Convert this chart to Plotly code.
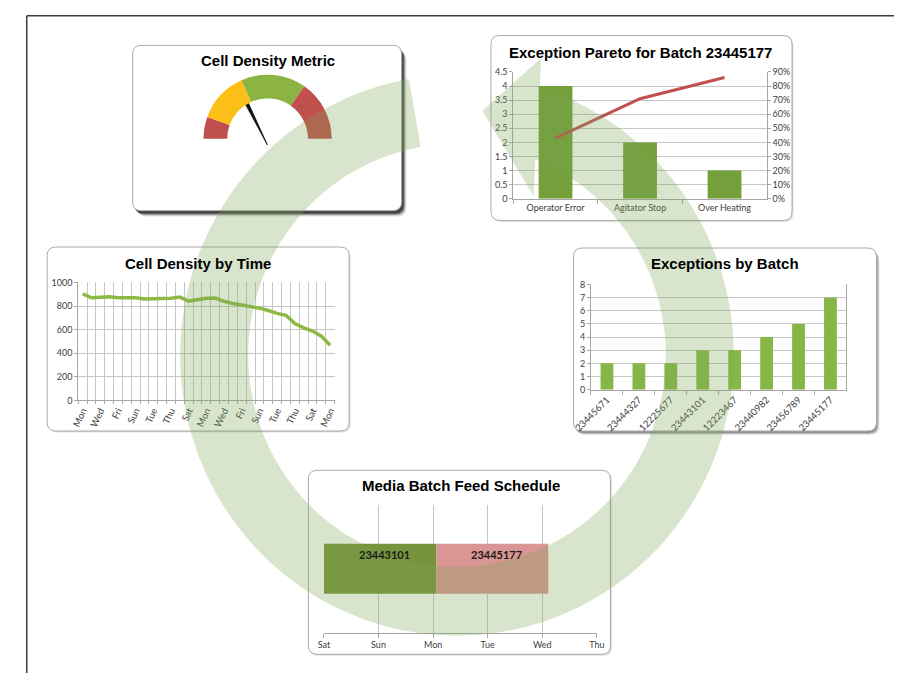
import math
import plotly.graph_objects as go

W, H = 902, 678

# ---------------- data ----------------
gauge_bands = [20, 46, 59, 55]          # degrees of the half dial: low, warn, ok, high
gauge_colors = ["#c0504d", "#fcbf17", "#8bb443", "#c0504d"]
needle_value = 63                        # position on the 0..180 dial

pareto_causes = ["Operator Error", "Agitator Stop", "Over Heating"]
pareto_counts = [4, 2, 1]
pareto_cumulative = [0.43, 0.71, 0.86]

density_days = ["Mon", "Tue", "Wed", "Thu", "Fri", "Sat", "Sun",
                "Mon", "Tue", "Wed", "Thu", "Fri", "Sat", "Sun",
                "Mon", "Tue", "Wed", "Thu", "Fri", "Sat", "Sun",
                "Mon", "Tue", "Wed", "Thu", "Fri", "Sat", "Sun", "Mon"]
density_values = [903, 870, 875, 878, 870, 870, 870, 860, 865, 865,
                  866, 876, 842, 855, 866, 868, 840, 822, 810, 798,
                  782, 762, 738, 722, 652, 615, 588, 545, 468]

batch_ids = ["23445671", "23444327", "12225677", "23443101",
             "12223467", "23440982", "23456789", "23445177"]
batch_exceptions = [2, 2, 2, 3, 3, 4, 5, 7]

feed_batches = ["23443101", "23445177"]
feed_days_used = [2.06, 2.05]
week_days = ["Sat", "Sun", "Mon", "Tue", "Wed", "Thu"]

# ---------------- helpers ----------------
TICK_FONT = dict(family="Lato, Open Sans, sans-serif", size=9, color="#404040")
GRID = "#c6c6c6"
AXLINE = "#a6a6a6"


def px(x):
    return x / W


def py(y):
    return 1 - y / H


def dom_x(a, b):
    return [a / W, b / W]


def dom_y(top, bottom):
    return [1 - bottom / H, 1 - top / H]


def rrect_path(x0, y0, x1, y1, r):
    p = [
        f"M{px(x0 + r)},{py(y0)}",
        f"L{px(x1 - r)},{py(y0)}",
        f"Q{px(x1)},{py(y0)} {px(x1)},{py(y0 + r)}",
        f"L{px(x1)},{py(y1 - r)}",
        f"Q{px(x1)},{py(y1)} {px(x1 - r)},{py(y1)}",
        f"L{px(x0 + r)},{py(y1)}",
        f"Q{px(x0)},{py(y1)} {px(x0)},{py(y1 - r)}",
        f"L{px(x0)},{py(y0 + r)}",
        f"Q{px(x0)},{py(y0)} {px(x0 + r)},{py(y0)}",
        "Z",
    ]
    return " ".join(p)


shapes = []
annotations = []


def panel(x0, y0, x1, y1, shadow="soft"):
    if shadow == "strong":
        layers = [(5, 6, 0.10), (4, 5, 0.18), (3, 4, 0.35), (2, 3, 0.45)]
    elif shadow == "medium":
        layers = [(3, 4, 0.10), (2, 3, 0.18), (1, 2, 0.22)]
    else:
        layers = [(2, 2, 0.06), (1, 1, 0.10)]
    for dx, dy, a in layers:
        shapes.append(dict(type="path", xref="paper", yref="paper", layer="below",
                           path=rrect_path(x0 + dx, y0 + dy, x1 + dx, y1 + dy, 9),
                           fillcolor=f"rgba(0,0,0,{a})", line=dict(width=0)))
    shapes.append(dict(type="path", xref="paper", yref="paper", layer="below",
                       path=rrect_path(x0, y0, x1, y1, 9),
                       fillcolor="white", line=dict(color="#a9a9a9", width=1)))


def title(text, cx, cy):
    annotations.append(dict(text=f"<b>{text}</b>", x=px(cx), y=py(cy),
                            xref="paper", yref="paper", showarrow=False,
                            xanchor="center", yanchor="middle",
                            font=dict(family="Liberation Sans, Arial, sans-serif",
                                      size=15, color="black")))


# outer frame
shapes.append(dict(type="line", xref="paper", yref="paper", layer="below",
                   x0=px(9), x1=1.0, y0=py(10), y1=py(10),
                   line=dict(color="#3c3c3c", width=1.5)))
shapes.append(dict(type="line", xref="paper", yref="paper", layer="below",
                   x0=px(9), x1=px(9), y0=py(10), y1=0,
                   line=dict(color="#3c3c3c", width=1.5)))

# panels
panel(118, 40, 395, 208, "strong")
panel(487, 30, 797, 218, "soft")
panel(30, 245, 341, 432, "soft")
panel(572, 246, 884, 432, "medium")
panel(299, 472, 610, 659, "soft")

title("Cell Density Metric", 257, 55)
title("Exception Pareto for Batch 23445177", 641, 47)
title("Cell Density by Time", 185, 262)
title("Exceptions by Batch", 728, 262)
title("Media Batch Feed Schedule", 456, 487)

fig = go.Figure()

# ---------------- gauge ----------------
gauge_box = (191, 69, 323, 201)   # left, top, right, bottom in px
fig.add_trace(go.Pie(
    values=gauge_bands + [sum(gauge_bands)],
    marker=dict(colors=gauge_colors + ["rgba(0,0,0,0)"], line=dict(width=0)),
    hole=0.63, rotation=-90, direction="clockwise", sort=False,
    textinfo="none", hoverinfo="skip", showlegend=False,
    domain=dict(x=dom_x(gauge_box[0], gauge_box[2]), y=dom_y(gauge_box[1], gauge_box[3])),
))

half = (gauge_box[2] - gauge_box[0]) / 2
ang = math.radians(180 - needle_value)
ux, uy = math.cos(ang), math.sin(ang)
nx, ny = -uy, ux
pivot = (0.0, -6.0)
tip = (pivot[0] + 48 * ux, pivot[1] + 48 * uy)
needle_x = [pivot[0] + 0.3 * nx, tip[0] + 1.7 * nx, tip[0] - 1.7 * nx, pivot[0] - 0.3 * nx, pivot[0] + 0.3 * nx]
needle_y = [pivot[1] + 0.3 * ny, tip[1] + 1.7 * ny, tip[1] - 1.7 * ny, pivot[1] - 0.3 * ny, pivot[1] + 0.3 * ny]
fig.add_trace(go.Scatter(x=needle_x, y=needle_y, mode="lines", fill="toself",
                         fillcolor="#111111", line=dict(color="#111111", width=0.8),
                         xaxis="x6", yaxis="y6", hoverinfo="skip", showlegend=False))

# ---------------- pareto ----------------
fig.add_trace(go.Bar(x=pareto_causes, y=pareto_counts, width=0.4,
                     marker=dict(color="#73a03a", line=dict(width=0)),
                     xaxis="x", yaxis="y", showlegend=False))
fig.add_trace(go.Scatter(x=pareto_causes, y=pareto_cumulative, mode="lines",
                         line=dict(color="#c0504d", width=3),
                         xaxis="x", yaxis="y2", showlegend=False))

# ---------------- cell density by time ----------------
idx = list(range(len(density_values)))
fig.add_trace(go.Scatter(x=idx, y=density_values, mode="lines",
                         line=dict(color="#8db944", width=3.5),
                         xaxis="x3", yaxis="y3", showlegend=False))

# ---------------- exceptions by batch ----------------
fig.add_trace(go.Bar(x=batch_ids, y=batch_exceptions, width=0.4,
                     marker=dict(color="#86b645", line=dict(width=0)),
                     xaxis="x4", yaxis="y4", showlegend=False))

# ---------------- media batch feed schedule ----------------
feed_colors = ["#77933c", "#d99694"]
start = 0.0
for name, dur, col in zip(feed_batches, feed_days_used, feed_colors):
    fig.add_trace(go.Bar(y=[0], x=[dur], base=[start], orientation="h", width=0.39,
                         marker=dict(color=col, line=dict(width=0)),
                         xaxis="x5", yaxis="y5", showlegend=False))
    annotations.append(dict(text=f"<b>{name}</b>", x=start + dur / 2, y=0,
                            xref="x5", yref="y5", showarrow=False, yshift=14, xshift=4,
                            font=dict(family="Lato, Open Sans, sans-serif", size=11,
                                      color="#1a1a1a")))
    start += dur

# ---------------- big circular arrow ----------------
ring_cx, ring_cy = 452, 355
ring_outer, ring_inner = 285, 215


def ring_pt(deg, r):
    a = math.radians(deg)
    return ring_cx + r * math.cos(a), ring_cy - r * math.sin(a)


pts = []
d = 100.0
while d <= 432.6:
    pts.append(ring_pt(d, ring_outer))
    d += 1.5
pts.append(ring_pt(432.6, ring_outer))
pts.append(ring_pt(434, 314))
pts.append(ring_pt(444, 250))
pts.append(ring_pt(424, 180))
pts.append(ring_pt(428, ring_inner))
d = 428.0
while d >= 100:
    pts.append(ring_pt(d, ring_inner))
    d -= 1.5
pts.append(ring_pt(100, ring_inner))
ring_path = "M" + " L".join(f"{px(x)},{py(y)}" for x, y in pts) + " Z"
shapes.append(dict(type="path", xref="paper", yref="paper", layer="above",
                   path=ring_path, fillcolor="rgba(125,165,85,0.30)",
                   line=dict(width=0)))

# ---------------- layout ----------------
common_y = dict(gridcolor=GRID, showline=True, linecolor=AXLINE, ticks="outside",
                ticklen=3, tickcolor=AXLINE, tickfont=TICK_FONT, zeroline=False,
                fixedrange=True)

fig.update_layout(
    width=W, height=H, margin=dict(l=0, r=0, t=0, b=0),
    paper_bgcolor="white", plot_bgcolor="rgba(0,0,0,0)",
    showlegend=False, bargap=0.6, barmode="overlay",
    shapes=shapes, annotations=annotations,
    # pareto
    xaxis=dict(domain=dom_x(510, 771), anchor="y", tickson="boundaries", ticks="outside",
               ticklen=4, tickcolor=AXLINE, showline=True, linecolor=AXLINE,
               showgrid=False, tickfont=TICK_FONT, fixedrange=True),
    yaxis=dict(domain=dom_y(67, 196), anchor="x", range=[0, 4.5], dtick=0.5, **common_y),
    yaxis2=dict(overlaying="y", anchor="x", side="right", range=[0, 0.9], dtick=0.1,
                tickformat=".0%", showgrid=False, showline=True, linecolor=AXLINE,
                ticks="outside", ticklen=3, tickcolor=AXLINE, tickfont=TICK_FONT,
                zeroline=False, fixedrange=True),
    # cell density by time
    xaxis3=dict(domain=dom_x(62, 326), anchor="y3", range=[-0.5, len(density_values) - 0.5],
                tickmode="array", tickvals=idx[::2], ticktext=density_days[::2],
                tickangle=-65, showgrid=False, showline=True, linecolor=AXLINE,
                ticks="", tickfont=dict(TICK_FONT, size=9.5), zeroline=False, fixedrange=True,
                minor=dict(tick0=0.5, dtick=1, showgrid=True, gridcolor=GRID,
                           ticks="outside", ticklen=3, tickcolor=AXLINE)),
    yaxis3=dict(domain=dom_y(281, 401), anchor="x3", range=[0, 1000], dtick=200, **common_y),
    # exceptions by batch
    xaxis4=dict(domain=dom_x(590, 853), anchor="y4", tickson="boundaries", ticks="outside",
                ticklen=4, tickcolor=AXLINE, showline=True, linecolor=AXLINE,
                showgrid=False, tickangle=-45, tickfont=dict(TICK_FONT, size=9.5),
                fixedrange=True),
    yaxis4=dict(domain=dom_y(283, 390), anchor="x4", range=[0, 8], dtick=1, mirror=True,
                **common_y),
    # media batch feed schedule
    xaxis5=dict(domain=dom_x(315, 596), anchor="y5", range=[0, 5], tickmode="array",
                tickvals=list(range(len(week_days))), ticktext=week_days,
                showgrid=True, gridcolor=GRID, showline=True, linecolor=AXLINE,
                ticks="outside", ticklen=4, tickcolor=AXLINE, tickfont=TICK_FONT,
                zeroline=False, fixedrange=True),
    yaxis5=dict(domain=dom_y(507, 637), anchor="x5", range=[-0.5, 0.5], visible=False,
                fixedrange=True),
    # needle overlay on the gauge
    xaxis6=dict(domain=dom_x(gauge_box[0], gauge_box[2]), anchor="y6",
                range=[-half, half], visible=False, fixedrange=True),
    yaxis6=dict(domain=dom_y(gauge_box[1], gauge_box[3]), anchor="x6",
                range=[-half, half], visible=False, fixedrange=True),
)

# keep the page edge flush with the figure
page_css = ("document.body.style.margin='0';"
            "document.documentElement.style.overflow='hidden';")
fig.write_html("out.html", post_script=page_css)
